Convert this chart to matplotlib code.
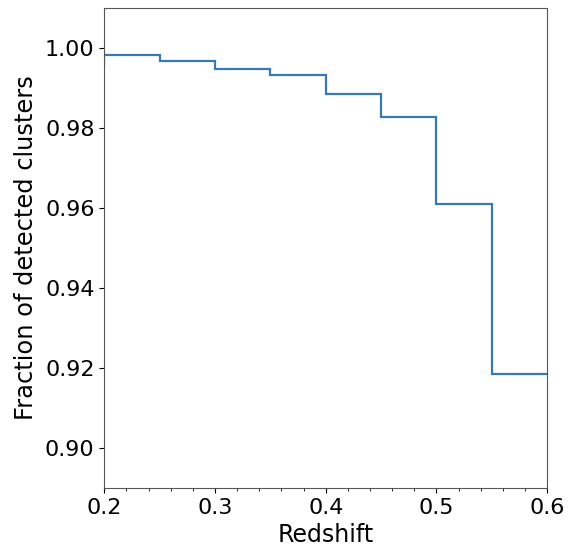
#!/usr/bin/env python3

import matplotlib
matplotlib.use('Agg')
import matplotlib.pyplot as plt
from matplotlib.ticker import MultipleLocator

# redshift bin edges and detected fraction in each bin
z_edges = [0.15, 0.20, 0.25, 0.30, 0.35, 0.40, 0.45, 0.50, 0.55, 0.60]
fraction = [0.9955, 0.9984, 0.9967, 0.9947, 0.9933, 0.9885, 0.9829, 0.9610, 0.9186]


def _draw_plot():
    fig = plt.figure(figsize=(5.7, 5.47), dpi=100)
    ax = fig.add_axes([0.183, 0.108, 0.777, 0.877])
    ax.stairs(fraction, z_edges, baseline=None, color='#3a78b5', linewidth=1.6)

    ax.set_xlim(0.2, 0.6)
    ax.set_ylim(0.89, 1.01)
    ax.set_xticks([0.2, 0.3, 0.4, 0.5, 0.6])
    ax.xaxis.set_minor_locator(MultipleLocator(0.02))
    ax.set_yticks([0.90, 0.92, 0.94, 0.96, 0.98, 1.00])
    ax.tick_params(labelsize=16)
    ax.set_xlabel('Redshift', fontsize=17, labelpad=4)
    ax.set_ylabel('Fraction of detected clusters', fontsize=17.4, labelpad=5)
    for spine in ax.spines.values():
        spine.set_color('#555555')

    fig.savefig('out.png', dpi=100)


if __name__ == "__main__":
    _draw_plot()
